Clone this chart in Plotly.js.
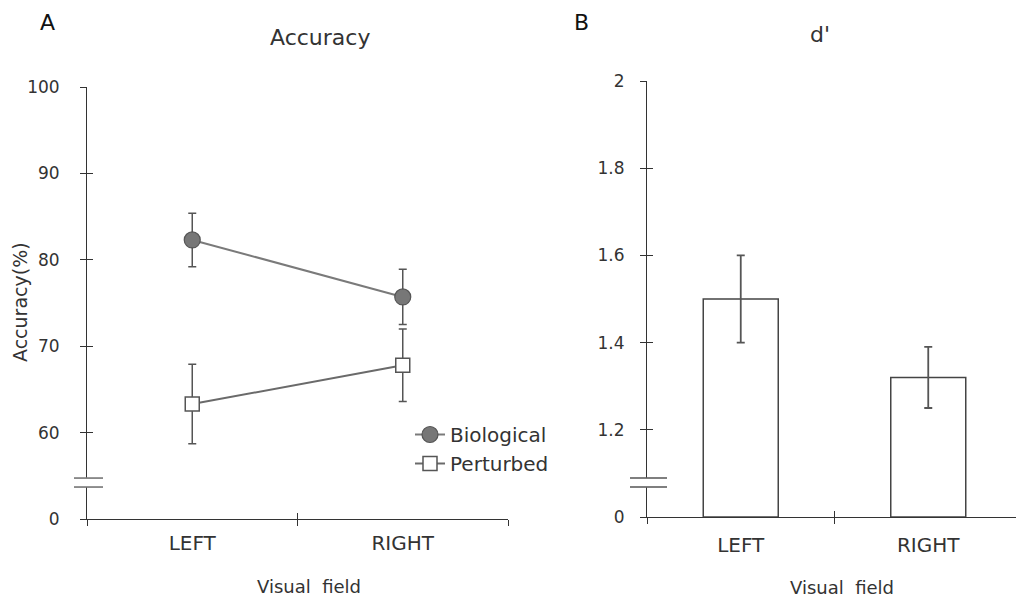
<!DOCTYPE html>
<html>
<head>
<meta charset="utf-8">
<script src="https://cdn.plot.ly/plotly-3.0.1.min.js"></script>
<style>html,body{margin:0;padding:0;background:#fff;overflow:hidden}#chart{width:1017px;height:602px}</style>
</head>
<body>
<div id="chart"></div>
<script>
// ---- data ----
const categories = ['LEFT', 'RIGHT'];
const bioAcc = [82.3, 75.7];
const bioErr = [3.1, 3.2];
const pertAcc = [63.3, 67.8];
const pertErr = [4.6, 4.2];
const dprime = [1.5, 1.32];
const dprimeErr = [0.1, 0.07];
const accTickVals = [50, 60, 70, 80, 90, 100];
const accTickText = ['0', '60', '70', '80', '90', '100'];
const dTickVals = [1, 1.2, 1.4, 1.6, 1.8, 2];
const dTickText = ['0', '1.2', '1.4', '1.6', '1.8', '2'];
const boundaryTicks = [-0.5, 0.5, 1.5];

const FONT = 'DejaVu Sans, sans-serif';
const TXT = '#333';
const AX = '#333';

const W = 1017, H = 602;
const px = v => v / W;
const py = v => 1 - v / H;

const leftDomX = [px(87), px(508)];
const leftDomY = [py(519), py(87)];
const rightDomX = [px(647), px(1016)];
const rightDomY = [py(517), py(81)];

const traces = [
  {
    type: 'scatter', mode: 'lines+markers', name: 'Biological',
    x: categories, y: bioAcc, xaxis: 'x', yaxis: 'y',
    line: {color: '#7a7a7a', width: 2},
    marker: {symbol: 'circle', size: 16, color: '#777777', line: {color: '#555', width: 1.2}},
    error_y: {type: 'data', array: bioErr, visible: true, color: '#555', thickness: 1.5, width: 4}
  },
  {
    type: 'scatter', mode: 'lines+markers', name: 'Perturbed',
    x: categories, y: pertAcc, xaxis: 'x', yaxis: 'y',
    line: {color: '#6a6a6a', width: 2},
    marker: {symbol: 'square', size: 14, color: '#ffffff', line: {color: '#555', width: 1.5}},
    error_y: {type: 'data', array: pertErr, visible: true, color: '#555', thickness: 1.5, width: 4}
  },
  {
    type: 'bar', name: "d'", showlegend: false,
    x: categories, y: dprime.map(v => v - 1), base: 1, xaxis: 'x2', yaxis: 'y2',
    width: 0.4,
    marker: {color: '#ffffff', line: {color: '#444', width: 1.5}},
    error_y: {type: 'data', array: dprimeErr, visible: true, color: '#555', thickness: 1.8, width: 4}
  },
  {type: 'scatter', x: [], y: [], xaxis: 'x3', yaxis: 'y3', showlegend: false, hoverinfo: 'skip'},
  {type: 'scatter', x: [], y: [], xaxis: 'x4', yaxis: 'y4', showlegend: false, hoverinfo: 'skip'}
];

const baseAxis = {
  showgrid: false, zeroline: false, showline: true, linecolor: AX, linewidth: 1,
  tickcolor: AX, ticklen: 6, tickwidth: 1, fixedrange: true,
  tickfont: {family: FONT, size: 17, color: TXT}
};

const overlayAxis = {
  showgrid: false, zeroline: false, showline: false, ticks: 'inside',
  tickcolor: AX, ticklen: 6, tickwidth: 1, showticklabels: false, fixedrange: true
};

const ann = (text, x, y, size, color, extra) => Object.assign({
  text: text, x: px(x), y: py(y), xref: 'paper', yref: 'paper', showarrow: false,
  xanchor: 'center', yanchor: 'middle',
  font: {family: FONT, size: size, color: color}
}, extra || {});

const layout = {
  width: W, height: H,
  margin: {l: 0, r: 0, t: 0, b: 0},
  paper_bgcolor: '#fff', plot_bgcolor: 'rgba(0,0,0,0)',
  font: {family: FONT, color: TXT},
  showlegend: true,
  legend: {
    x: px(410), y: py(415), xanchor: 'left', yanchor: 'top',
    bgcolor: 'rgba(0,0,0,0)', borderwidth: 0,
    font: {family: FONT, size: 20, color: TXT},
    itemwidth: 30, tracegroupgap: 0
  },
  xaxis: Object.assign({}, baseAxis, {
    domain: leftDomX, anchor: 'y', type: 'category', range: [-0.5, 1.5],
    ticks: 'outside', tickson: 'boundaries', ticklabelstandoff: 6,
    tickfont: {family: FONT, size: 20, color: TXT}
  }),
  yaxis: Object.assign({}, baseAxis, {
    domain: leftDomY, anchor: 'x', range: [50, 100],
    tickvals: accTickVals, ticktext: accTickText, ticks: 'outside', ticklabelstandoff: 17
  }),
  xaxis3: Object.assign({}, overlayAxis, {
    domain: leftDomX, anchor: 'y', overlaying: 'x', range: [-0.5, 1.5], tickvals: boundaryTicks
  }),
  yaxis3: Object.assign({}, overlayAxis, {
    domain: leftDomY, anchor: 'x', overlaying: 'y', range: [50, 100], tickvals: accTickVals
  }),
  xaxis2: Object.assign({}, baseAxis, {
    domain: rightDomX, anchor: 'y2', type: 'category', range: [-0.5, 1.468],
    ticks: 'outside', tickson: 'boundaries', ticklabelstandoff: 10,
    tickfont: {family: FONT, size: 20, color: TXT}
  }),
  yaxis2: Object.assign({}, baseAxis, {
    domain: rightDomY, anchor: 'x2', range: [1, 2],
    tickvals: dTickVals, ticktext: dTickText, ticks: 'outside', ticklabelstandoff: 12
  }),
  xaxis4: Object.assign({}, overlayAxis, {
    domain: rightDomX, anchor: 'y2', overlaying: 'x2', range: [-0.5, 1.468], tickvals: boundaryTicks
  }),
  yaxis4: Object.assign({}, overlayAxis, {
    domain: rightDomY, anchor: 'x2', overlaying: 'y2', range: [1, 2], tickvals: dTickVals
  }),
  annotations: [
    ann('A', 47, 22, 22, '#111'),
    ann('B', 581, 22, 22, '#111'),
    ann('Accuracy', 320, 38, 22, TXT),
    ann("d'", 820, 35, 22, TXT),
    ann('Accuracy(%)', 20, 302, 19, TXT, {textangle: -90}),
    ann('Visual\u00a0\u00a0field', 309, 586, 18, TXT),
    ann('Visual\u00a0\u00a0field', 842, 587, 18, TXT)
  ],
  shapes: [
    // axis break, left panel
    {type: 'rect', xref: 'paper', yref: 'y', x0: px(84), x1: px(90), y0: 53.65, y1: 54.8,
     fillcolor: '#fff', line: {width: 0}, layer: 'above'},
    {type: 'line', xref: 'paper', yref: 'y', x0: px(74), x1: px(103), y0: 54.74, y1: 54.74,
     line: {color: '#555', width: 1.3}, layer: 'above'},
    {type: 'line', xref: 'paper', yref: 'y', x0: px(74), x1: px(103), y0: 53.7, y1: 53.7,
     line: {color: '#555', width: 1.3}, layer: 'above'},
    // axis break, right panel
    {type: 'rect', xref: 'paper', yref: 'y2', x0: px(644), x1: px(650), y0: 1.068, y1: 1.09,
     fillcolor: '#fff', line: {width: 0}, layer: 'above'},
    {type: 'line', xref: 'paper', yref: 'y2', x0: px(630), x1: px(667), y0: 1.0894, y1: 1.0894,
     line: {color: '#555', width: 1.3}, layer: 'above'},
    {type: 'line', xref: 'paper', yref: 'y2', x0: px(630), x1: px(667), y0: 1.0688, y1: 1.0688,
     line: {color: '#555', width: 1.3}, layer: 'above'}
  ]
};

Plotly.newPlot('chart', traces, layout, {displayModeBar: false, staticPlot: true});
</script>
</body>
</html>
